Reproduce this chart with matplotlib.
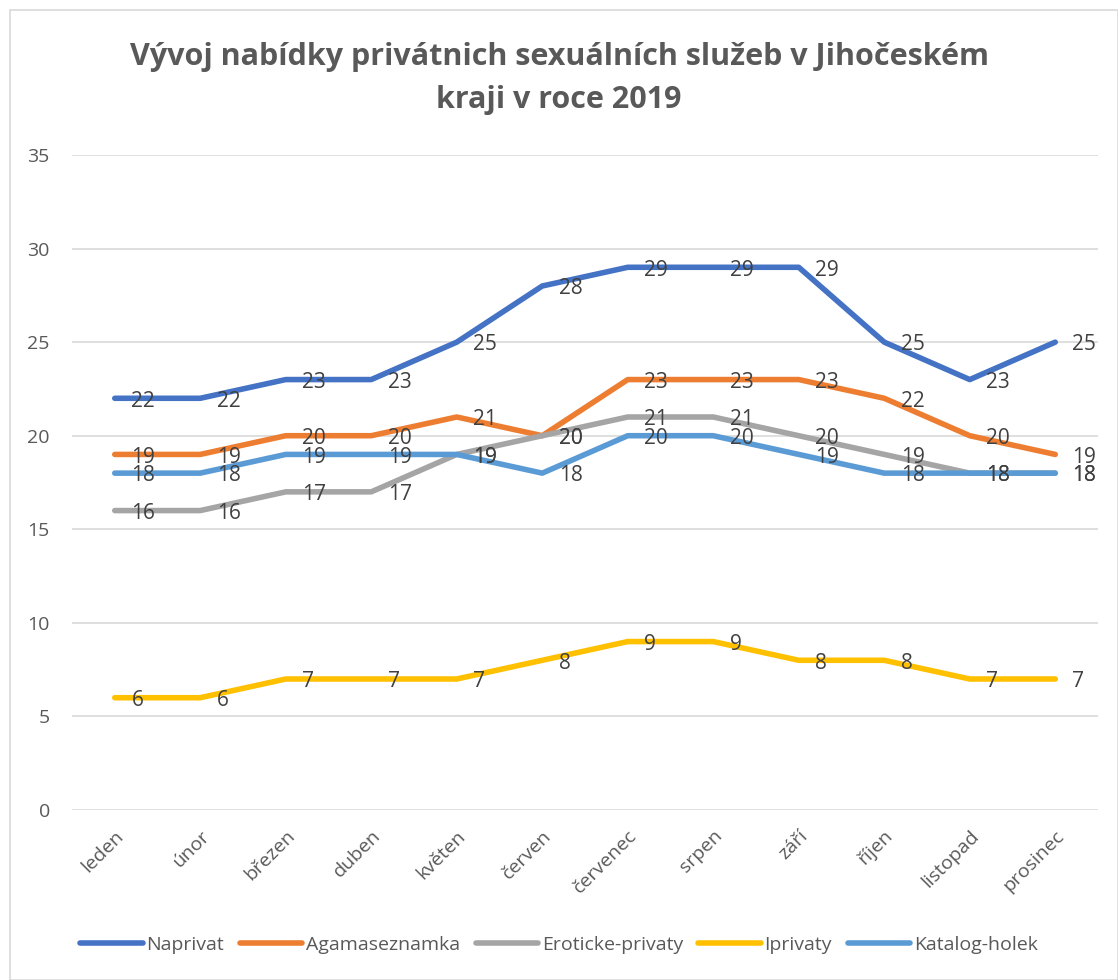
import matplotlib
matplotlib.use("Agg")
import matplotlib.pyplot as plt
from matplotlib.patches import Rectangle
from matplotlib import font_manager

months = ["leden", "únor", "březen", "duben", "květen", "červen",
          "červenec", "srpen", "září", "říjen", "listopad", "prosinec"]
naprivat = [22, 22, 23, 23, 25, 28, 29, 29, 29, 25, 23, 25]
agamaseznamka = [19, 19, 20, 20, 21, 20, 23, 23, 23, 22, 20, 19]
eroticke = [16, 16, 17, 17, 19, 20, 21, 21, 20, 19, 18, 18]
iprivaty = [6, 6, 7, 7, 7, 8, 9, 9, 8, 8, 7, 7]
katalog = [18, 18, 19, 19, 19, 18, 20, 20, 19, 18, 18, 18]

series = [
    ("Naprivat", naprivat, "#4472C4"),
    ("Agamaseznamka", agamaseznamka, "#ED7D31"),
    ("Eroticke-privaty", eroticke, "#A5A5A5"),
    ("Iprivaty", iprivaty, "#FFC000"),
    ("Katalog-holek", katalog, "#5B9BD5"),
]

names = {f.name for f in font_manager.fontManager.ttflist}
fam = "Liberation Sans Narrow" if "Liberation Sans Narrow" in names else "Open Sans"
plt.rcParams["font.family"] = [fam, "DejaVu Sans"]

fig = plt.figure(figsize=(11.18, 9.8), dpi=100)
fig.patches.append(Rectangle((10/1118, 0), 1 - 10/1118, 1 - 10/980, transform=fig.transFigure,
                             fill=False, edgecolor="#D9D9D9", lw=1.2))
ax = fig.add_axes([72/1118, 1 - 810/980, (1098 - 72)/1118, (810 - 155)/980])

x = list(range(len(months)))
for name, vals, col in series:
    ax.plot(x, vals, color=col, lw=4, solid_capstyle="round", solid_joinstyle="round", label=name)
for name, vals, col in series:
    for xi, v in zip(x, vals):
        ax.annotate(str(v), (xi, v), xytext=(12, -2), textcoords="offset points",
                    ha="left", va="center", fontsize=15, color="#404040")

ax.set_xlim(-0.5, 11.5)
ax.set_ylim(0, 35)
ax.set_yticks(range(0, 36, 5))
ax.set_xticks(x)
ax.set_xticklabels(months, rotation=45, ha="right", rotation_mode="anchor",
                   fontsize=14, color="#595959")
ax.tick_params(axis="y", labelsize=14, labelcolor="#595959", length=0, pad=16)
ax.tick_params(axis="x", length=0, pad=12)
ax.grid(axis="y", color="#D9D9D9", lw=1.2)
ax.set_axisbelow(True)
for s in ax.spines.values():
    s.set_visible(False)

fig.text(0.5, 1 - 57/980, "Vývoj nabídky privátnich sexuálních služeb v Jihočeském",
         ha="center", va="center", fontsize=22, fontweight="bold", color="#595959")
fig.text(0.5, 1 - 100/980, "kraji v roce 2019",
         ha="center", va="center", fontsize=22, fontweight="bold", color="#595959")

fig.legend(loc="center", bbox_to_anchor=(0.5, 1 - 945/980), ncol=5, frameon=False,
           fontsize=14, handlelength=3.2, columnspacing=0.8, handletextpad=0.2,
           labelcolor="#595959")

fig.savefig("out.png", dpi=100)
